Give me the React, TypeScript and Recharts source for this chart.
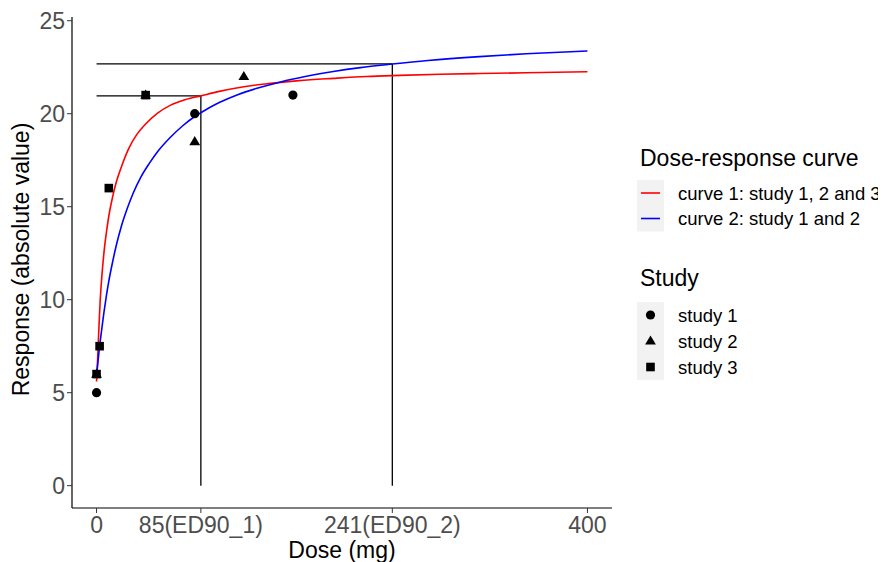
import {
  ComposedChart,
  Label,
  Line,
  ReferenceLine,
  Scatter,
  XAxis,
  YAxis,
} from "recharts";

const FONT = '"Liberation Sans", Arial, sans-serif';

// axis ticks
const doseTicks = [0, 85, 241, 400];
const doseTickLabels = ["0", "85(ED90_1)", "241(ED90_2)", "400"];
const responseTicks = [0, 5, 10, 15, 20, 25];

// fitted curves
const curve1Doses = [0, 1, 2, 3, 4.5, 6, 8, 10, 13, 16, 20, 26, 33, 40, 50, 60, 72, 85, 100, 120, 140, 165, 193, 220, 247, 280, 312, 350, 400];
const curve1Values = [5.6, 7.0, 8.6, 10.0, 11.4, 12.5, 13.6, 14.5, 15.5, 16.3, 17.1, 18.1, 18.9, 19.45, 20.05, 20.45, 20.75, 20.96, 21.2, 21.45, 21.62, 21.78, 21.9, 22.0, 22.06, 22.12, 22.16, 22.2, 22.26];
const curve2Doses = [0, 2, 4, 6, 8, 10, 13, 16, 20, 25, 30, 36, 43, 50, 60, 70, 80, 90, 100, 115, 130, 150, 170, 193, 215, 241, 270, 312, 350, 400];
const curve2Values = [5.9, 7.2, 8.3, 9.3, 10.2, 11.0, 12.0, 12.9, 13.9, 14.9, 15.75, 16.58, 17.33, 17.98, 18.72, 19.34, 19.85, 20.25, 20.6, 21.02, 21.35, 21.71, 22.0, 22.27, 22.48, 22.67, 22.86, 23.07, 23.22, 23.37];

// observed points
const study1Doses = [0, 80, 160];
const study1Values = [5, 20, 21];
const study2Doses = [0, 40, 80, 120];
const study2Values = [6, 21, 18.5, 22];
const study3Doses = [0, 2.5, 10, 40];
const study3Values = [6, 7.5, 16, 21];

// ED90 guide lines
const ed90Doses = [85, 241];
const ed90Values = [20.96, 22.68];

const curveNames = ["curve 1: study 1, 2 and 3", "curve 2: study 1 and 2"];
const curveColors = ["#FF0000", "#0000FF"];
const studyNames = ["study 1", "study 2", "study 3"];

const toPoints = (doses: number[], values: number[]) =>
  doses.map((dose, i) => ({ dose, response: values[i] }));

const curve1 = toPoints(curve1Doses, curve1Values);
const curve2 = toPoints(curve2Doses, curve2Values);
const study1 = toPoints(study1Doses, study1Values);
const study2 = toPoints(study2Doses, study2Values);
const study3 = toPoints(study3Doses, study3Values);

type P = { cx?: number; cy?: number };

const Dot = (cx: number, cy: number) => <circle cx={cx} cy={cy} r={4.6} fill="#000" />;
const Tri = (cx: number, cy: number) => (
  <path d={`M${cx},${cy - 5.6}L${cx + 5.4},${cy + 3.6}L${cx - 5.4},${cy + 3.6}Z`} fill="#000" />
);
const Sq = (cx: number, cy: number) => (
  <rect x={cx - 4.3} y={cy - 4.3} width={8.6} height={8.6} fill="#000" />
);

const shapeFn = (draw: (cx: number, cy: number) => JSX.Element) => (p: P) =>
  p.cx == null || p.cy == null ? <g /> : draw(p.cx, p.cy);

const tickStyle = { fontSize: 23, fill: "#4D4D4D", fontFamily: FONT };

function LegendBox() {
  const keyX = 637;
  const textX = 678;
  return (
    <svg
      width={886}
      height={562}
      style={{ position: "absolute", left: 0, top: 0, pointerEvents: "none" }}
      fontFamily={FONT}
    >
      <text x={640} y={166} fontSize={23} fill="#000">
        Dose-response curve
      </text>
      {curveNames.map((name, i) => {
        const cy = 193 + i * 25.5;
        return (
          <g key={name}>
            <rect x={keyX} y={cy - 13} width={27} height={26} fill="#F2F2F2" />
            <line x1={keyX + 4} x2={keyX + 23} y1={cy} y2={cy} stroke={curveColors[i]} strokeWidth={1.6} />
            <text x={textX} y={cy + 6.5} fontSize={18.5} fill="#000">
              {name}
            </text>
          </g>
        );
      })}
      <text x={640} y={286} fontSize={23} fill="#000">
        Study
      </text>
      {studyNames.map((name, i) => {
        const cy = 315 + i * 26;
        const draw = [Dot, Tri, Sq][i];
        return (
          <g key={name}>
            <rect x={keyX} y={cy - 13} width={27} height={26} fill="#F2F2F2" />
            {draw(keyX + 13.5, cy)}
            <text x={textX} y={cy + 6.5} fontSize={18.5} fill="#000">
              {name}
            </text>
          </g>
        );
      })}
    </svg>
  );
}

export default function App() {
  return (
    <div style={{ position: "relative", width: 886, height: 562, margin: "-8px 0 0 -8px", background: "#fff" }}>
      <ComposedChart
        width={886}
        height={562}
        margin={{ top: 17, right: 274, bottom: 0, left: 0 }}
        style={{ fontFamily: FONT }}
      >
        <XAxis
          type="number"
          dataKey="dose"
          domain={[-20, 420]}
          allowDataOverflow
          ticks={doseTicks}
          interval={0}
          tickFormatter={(v: number) => doseTickLabels[doseTicks.indexOf(v)] ?? String(v)}
          height={54}
          tick={tickStyle}
          tickSize={5}
          tickMargin={4}
          axisLine={{ stroke: "#000", strokeWidth: 1.2 }}
          tickLine={{ stroke: "#333" }}
        >
          <Label
            content={(props: any) => {
              const vb = props.viewBox;
              return (
                <text x={vb.x + vb.width / 2} y={vb.y + vb.height - 4.5} textAnchor="middle" fontSize={23} fill="#000" fontFamily={FONT}>
                  Dose (mg)
                </text>
              );
            }}
          />
        </XAxis>
        <YAxis
          type="number"
          dataKey="response"
          domain={[-1.2, 25.2]}
          allowDataOverflow
          ticks={responseTicks}
          interval={0}
          width={72}
          tick={tickStyle}
          tickSize={5}
          tickMargin={2}
          axisLine={{ stroke: "#000", strokeWidth: 1.2 }}
          tickLine={{ stroke: "#333" }}
        >
          <Label
            content={(props: any) => {
              const vb = props.viewBox;
              const x = 29;
              const y = vb.y + vb.height / 2 - 3;
              return (
                <text x={x} y={y} transform={`rotate(-90 ${x} ${y})`} textAnchor="middle" fontSize={23} fill="#000" fontFamily={FONT}>
                  Response (absolute value)
                </text>
              );
            }}
          />
        </YAxis>

        {ed90Doses.map((d, i) => (
          <ReferenceLine
            key={"h" + d}
            segment={[
              { x: 0, y: ed90Values[i] },
              { x: d, y: ed90Values[i] },
            ]}
            stroke="#000"
            strokeWidth={1.3}
          />
        ))}
        {ed90Doses.map((d, i) => (
          <ReferenceLine
            key={"v" + d}
            segment={[
              { x: d, y: 0 },
              { x: d, y: ed90Values[i] },
            ]}
            stroke="#000"
            strokeWidth={1.3}
          />
        ))}

        <Line data={curve1} dataKey="response" type="monotone" stroke={curveColors[0]} strokeWidth={1.6} dot={false} activeDot={false} isAnimationActive={false} />
        <Line data={curve2} dataKey="response" type="monotone" stroke={curveColors[1]} strokeWidth={1.6} dot={false} activeDot={false} isAnimationActive={false} />

        <Scatter data={study1} dataKey="response" shape={shapeFn(Dot)} isAnimationActive={false} />
        <Scatter data={study2} dataKey="response" shape={shapeFn(Tri)} isAnimationActive={false} />
        <Scatter data={study3} dataKey="response" shape={shapeFn(Sq)} isAnimationActive={false} />
      </ComposedChart>
      <LegendBox />
    </div>
  );
}
